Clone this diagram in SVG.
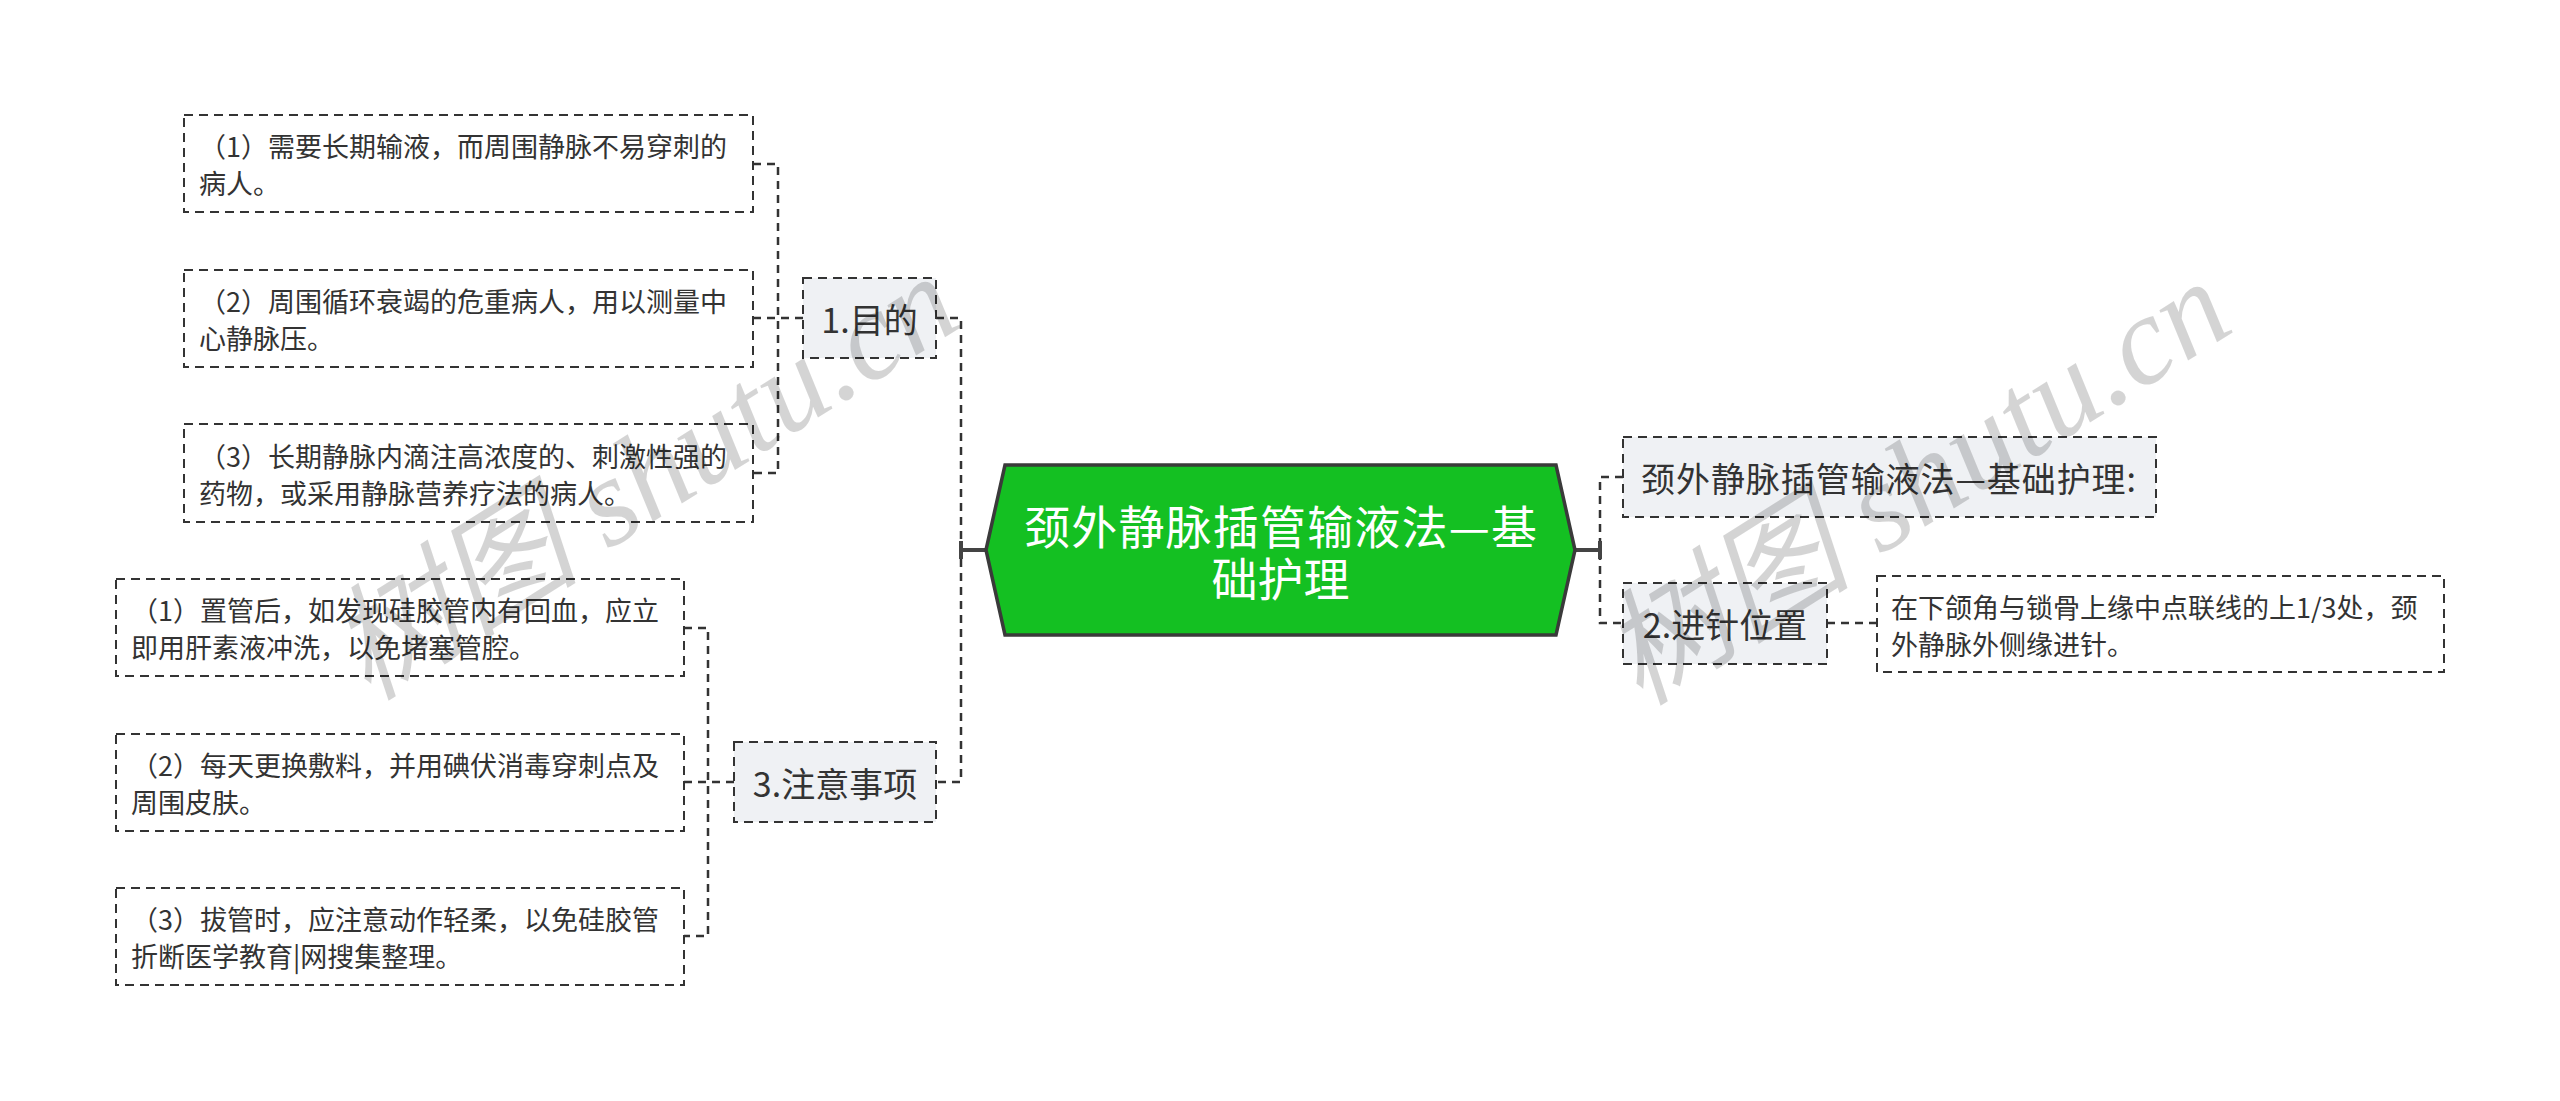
<svg xmlns="http://www.w3.org/2000/svg" width="2560" height="1101" viewBox="0 0 2560 1101">
<style>
.leaf{fill:#ffffff;stroke:#333333;stroke-width:2;stroke-dasharray:9 6;}
.sub{fill:#eff1f4;stroke:#333333;stroke-width:2;stroke-dasharray:9 6;}
.conn{fill:none;stroke:#333333;stroke-width:2.5;stroke-dasharray:8 6;}
.solid{fill:none;stroke:#444444;stroke-width:4;}
.t{font-family:"Noto Sans CJK SC","Noto Sans",sans-serif;fill:#333333;dominant-baseline:central;}
.t27{font-size:27px;}
.t34{font-size:34px;}
.ct{font-family:"Noto Sans CJK SC","Noto Sans",sans-serif;font-size:46px;fill:#ffffff;dominant-baseline:central;}
.wm{font-family:"Liberation Serif","Noto Sans CJK SC",serif;font-style:italic;font-size:126px;fill:#000000;fill-opacity:0.17;}
</style>
<rect width="2560" height="1101" fill="#ffffff"/>
<g id="connectors">
<path class="conn" d="M753,164 H778 V473 H753"/>
<path class="conn" d="M753,318 H803"/>
<path class="conn" d="M936,318 H961 V782 H936"/>
<path class="conn" d="M684,628 H708 V936 H684"/>
<path class="conn" d="M684,782 H734"/>
<path class="conn" d="M1623,477 H1600 V623 H1623"/>
<path class="conn" d="M1827,623 H1877"/>
<path class="solid" d="M961,550 H987 M961,541 V559"/>
<path class="solid" d="M1574,550 H1600 M1600,541 V559"/>
</g>
<g id="central">
<polygon points="986,550 1005,465 1556,465 1575,550 1556,635 1005,635" fill="#14c022" stroke="#3a3a3a" stroke-width="3.5"/>
<text class="ct"><tspan x="1024" y="524" textLength="513" lengthAdjust="spacing">颈外静脉插管输液法—基</tspan><tspan x="1280.5" y="576" text-anchor="middle">础护理</tspan></text>
</g>
<g id="n1">
<rect class="sub" x="803" y="278" width="133" height="80"/>
<text class="t t34" x="869.5" y="318" text-anchor="middle">1.目的</text>
</g>
<g id="n1a">
<rect class="leaf" x="184" y="115" width="569" height="97"/>
<text class="t t27" x="199" y="145">（1）需要长期输液，而周围静脉不易穿刺的</text>
<text class="t t27" x="199" y="182">病人。</text>
</g>
<g id="n1b">
<rect class="leaf" x="184" y="270" width="569" height="97"/>
<text class="t t27" x="199" y="300">（2）周围循环衰竭的危重病人，用以测量中</text>
<text class="t t27" x="199" y="337">心静脉压。</text>
</g>
<g id="n1c">
<rect class="leaf" x="184" y="424" width="569" height="98"/>
<text class="t t27" x="199" y="455">（3）长期静脉内滴注高浓度的、刺激性强的</text>
<text class="t t27" x="199" y="492">药物，或采用静脉营养疗法的病人。</text>
</g>
<g id="n3">
<rect class="sub" x="734" y="742" width="202" height="80"/>
<text class="t t34" x="835" y="782" text-anchor="middle">3.注意事项</text>
</g>
<g id="n3a">
<rect class="leaf" x="116" y="579" width="568" height="97"/>
<text class="t t27" x="131" y="609">（1）置管后，如发现硅胶管内有回血，应立</text>
<text class="t t27" x="131" y="646">即用肝素液冲洗，以免堵塞管腔。</text>
</g>
<g id="n3b">
<rect class="leaf" x="116" y="734" width="568" height="97"/>
<text class="t t27" x="131" y="764">（2）每天更换敷料，并用碘伏消毒穿刺点及</text>
<text class="t t27" x="131" y="801">周围皮肤。</text>
</g>
<g id="n3c">
<rect class="leaf" x="116" y="888" width="568" height="97"/>
<text class="t t27" x="131" y="918">（3）拔管时，应注意动作轻柔，以免硅胶管</text>
<text class="t t27" x="131" y="955">折断医学教育|网搜集整理。</text>
</g>
<g id="r1">
<rect class="sub" x="1623" y="437" width="533" height="80"/>
<text class="t t34" x="1641" y="477" textLength="495" lengthAdjust="spacing">颈外静脉插管输液法—基础护理:</text>
</g>
<g id="r2">
<rect class="sub" x="1623" y="583" width="204" height="81"/>
<text class="t t34" x="1725" y="623" text-anchor="middle">2.进针位置</text>
</g>
<g id="r2a">
<rect class="leaf" x="1877" y="576" width="567" height="96"/>
<text class="t t27" x="1891" y="606">在下颌角与锁骨上缘中点联线的上1/3处，颈</text>
<text class="t t27" x="1891" y="643">外静脉外侧缘进针。</text>
</g>
<g id="watermark">
<text class="wm" x="368" y="702" transform="rotate(-32.3 368 702)">树图 shutu.cn</text>
<text class="wm" x="1640" y="707" transform="rotate(-32.3 1640 707)">树图 shutu.cn</text>
</g>
</svg>
